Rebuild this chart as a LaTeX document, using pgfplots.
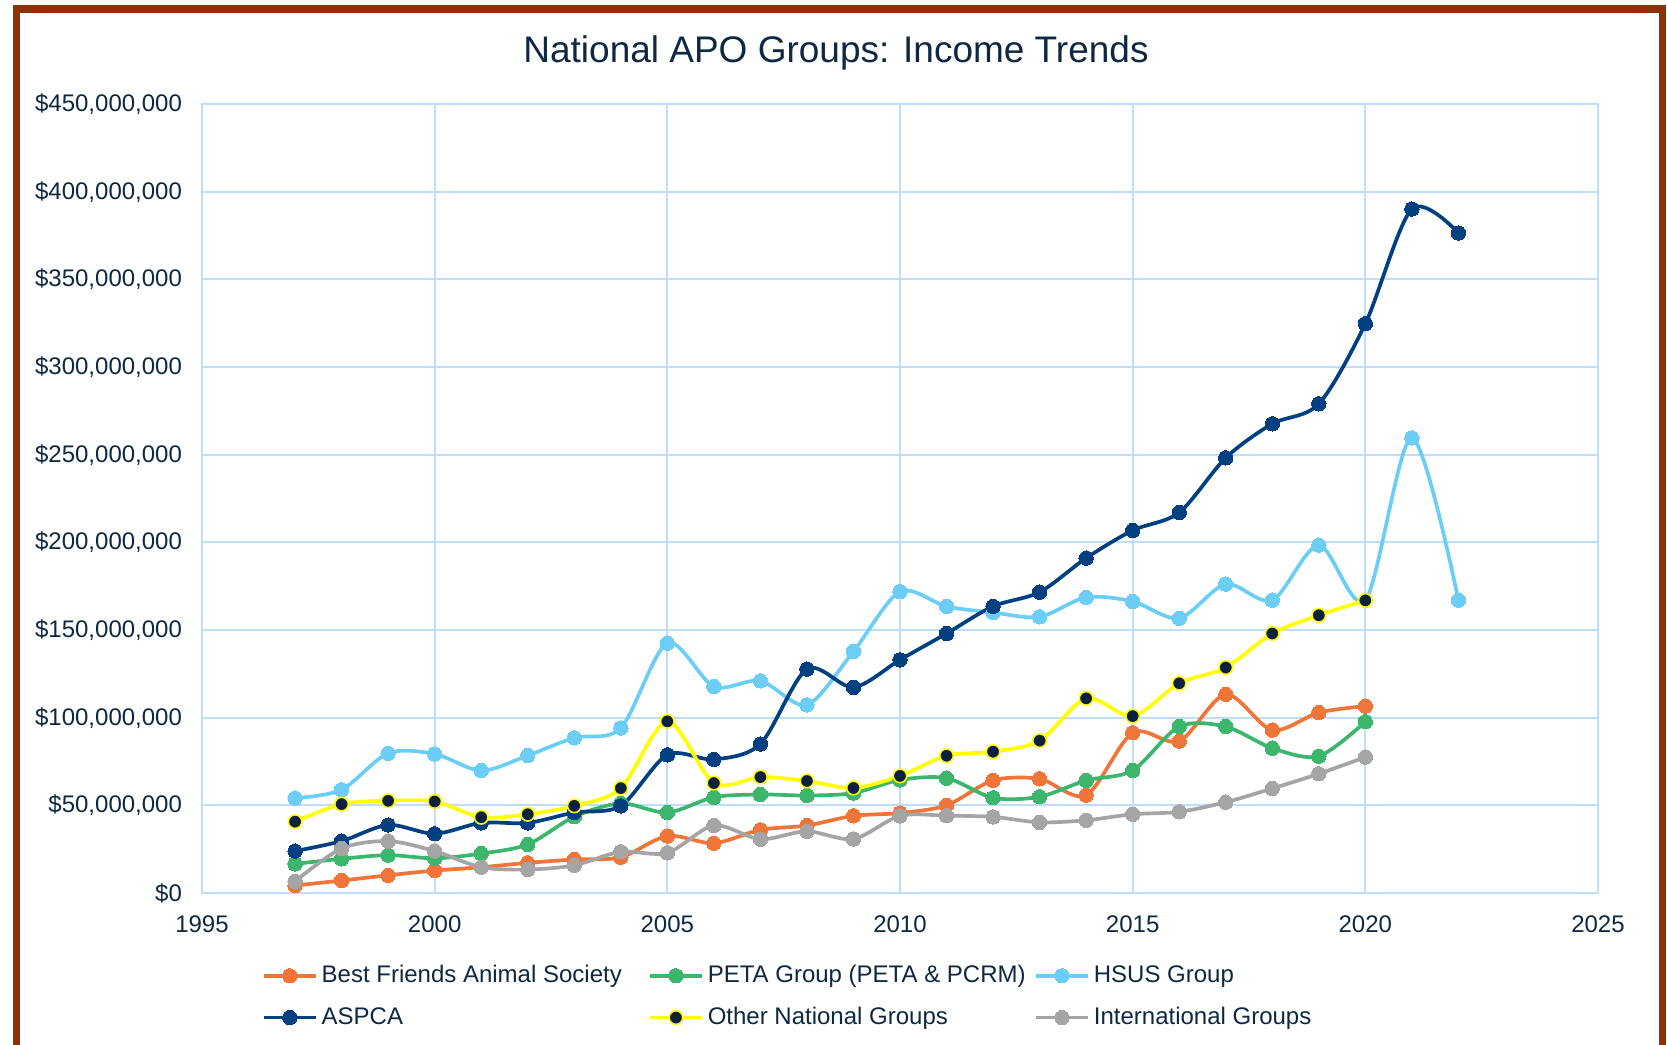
\documentclass[border=0pt]{standalone}
\usepackage{fontspec}
\setmainfont{Liberation Sans}
\usepackage{pgfplots}
\pgfplotsset{compat=1.18}
\definecolor{frame}{RGB}{141,49,9}
\definecolor{txt}{RGB}{14,40,65}
\definecolor{gridc}{RGB}{190,222,252}
\definecolor{cOrange}{RGB}{240,117,56}
\definecolor{cGreen}{RGB}{60,182,108}
\definecolor{cLight}{RGB}{108,206,246}
\definecolor{cNavy}{RGB}{0,64,128}
\definecolor{cYellow}{RGB}{255,255,0}
\definecolor{cMark}{RGB}{10,32,62}
\definecolor{cGray}{RGB}{165,165,165}
\begin{document}
\begin{tikzpicture}
\useasboundingbox (-101pt,-76pt) rectangle (732.5pt,446.5pt);
\draw[frame, line width=3.75pt] (-92.75pt,-80pt) -- (-92.75pt,442.1pt) -- (730.25pt,442.1pt) -- (730.25pt,-80pt);
\begin{axis}[
  at={(0,0)}, anchor=south west, scale only axis,
  width=698pt, height=394.5pt,
  xmin=1995, xmax=2025, ymin=0, ymax=450,
  xtick={1995,2000,...,2025}, ytick={0,50,...,450},
  yticklabels={{\$0},{\$50,000,000},{\$100,000,000},{\$150,000,000},{\$200,000,000},{\$250,000,000},{\$300,000,000},{\$350,000,000},{\$400,000,000},{\$450,000,000}},
  /pgf/number format/1000 sep={},
  /pgf/number format/assume math mode=true,
  scaled ticks=false,
  major tick length=0pt,
  axis line style={draw=gridc, line width=0.9pt},
  grid=major, grid style={draw=gridc, line width=0.9pt},
  ticklabel style={font=\fontsize{12}{14}\selectfont, text=txt},
  yticklabel style={xshift=-6.5pt},
  xticklabel style={yshift=-7.6pt},
  every axis plot/.append style={smooth, tension=0.5, line width=1.85pt, mark=*, mark size=3.6pt},
  legend columns=3,
  legend cell align=left,
  legend style={at={(0,0)}, anchor=north west, xshift=30pt, yshift=-34.3pt, draw=none, fill=none,
    font=\fontsize{12}{14}\selectfont, text=txt, inner sep=0pt, outer sep=0pt, row sep=6.7pt,
    /tikz/every even column/.append style={column sep=11.2pt}},
  legend image code/.code={\draw[mark repeat=2,mark phase=2,#1] plot coordinates {(0pt,0pt) (13pt,0pt) (26pt,0pt)};},
]
\addplot[color=cOrange, mark options={fill=cOrange, draw=cOrange, line width=0pt}] coordinates {
(1997,4.3) (1998,7.1) (1999,10.1) (2000,12.8) (2001,14.7) (2002,17.2) (2003,19.1) (2004,20.4) (2005,32.5) (2006,28.4) (2007,36) (2008,38.5) (2009,44) (2010,45.6) (2011,50) (2012,64.2) (2013,65.1) (2014,55.8) (2015,91.4) (2016,86.6) (2017,113.3) (2018,92.9) (2019,102.9) (2020,106.6)};
\addlegendentry{\makebox[150pt][l]{Best Friends Animal Society}}
\addplot[color=cGreen, mark options={fill=cGreen, draw=cGreen, line width=0pt}] coordinates {
(1997,16.6) (1998,19.5) (1999,21.6) (2000,19.8) (2001,22.5) (2002,27.7) (2003,43.5) (2004,51.1) (2005,45.9) (2006,54.6) (2007,56.2) (2008,55.6) (2009,57) (2010,64.5) (2011,65.5) (2012,54.3) (2013,54.9) (2014,64.2) (2015,69.9) (2016,94.9) (2017,94.9) (2018,82.6) (2019,78) (2020,97.7)};
\addlegendentry{\makebox[150pt][l]{PETA Group (PETA \& PCRM)}}
\addplot[color=cLight, mark options={fill=cLight, draw=cLight, line width=0pt}] coordinates {
(1997,54.1) (1998,58.9) (1999,79.7) (2000,79.3) (2001,69.8) (2002,78.4) (2003,88.5) (2004,94.1) (2005,142.5) (2006,117.8) (2007,121) (2008,107.3) (2009,137.8) (2010,171.8) (2011,163.4) (2012,160) (2013,157.5) (2014,168.6) (2015,166.3) (2016,156.7) (2017,176.2) (2018,167) (2019,198.4) (2020,167) (2021,259.6) (2022,167)};
\addlegendentry{\makebox[150pt][l]{HSUS Group}}
\addplot[color=cNavy, mark options={fill=cNavy, draw=cNavy, line width=0pt}] coordinates {
(1997,23.9) (1998,29.6) (1999,38.8) (2000,33.8) (2001,40) (2002,40) (2003,45.9) (2004,49.7) (2005,78.8) (2006,76.2) (2007,85) (2008,127.7) (2009,117.3) (2010,133) (2011,148) (2012,163.5) (2013,171.6) (2014,191) (2015,206.8) (2016,217) (2017,248.2) (2018,267.6) (2019,279) (2020,324.7) (2021,390.1) (2022,376.4)};
\addlegendentry{\makebox[150pt][l]{ASPCA}}
\addplot[color=cYellow, mark size=3.4pt, mark options={fill=cMark, draw=cYellow, line width=0.8pt}] coordinates {
(1997,40.7) (1998,50.7) (1999,52.6) (2000,52.2) (2001,43.2) (2002,44.9) (2003,49.7) (2004,59.8) (2005,97.9) (2006,62.7) (2007,66.1) (2008,63.9) (2009,59.9) (2010,66.8) (2011,78.3) (2012,80.6) (2013,86.9) (2014,111) (2015,100.9) (2016,119.6) (2017,128.6) (2018,148) (2019,158.4) (2020,166.9)};
\addlegendentry{\makebox[150pt][l]{Other National Groups}}
\addplot[color=cGray, mark options={fill=cGray, draw=cGray, line width=0pt}] coordinates {
(1997,6.7) (1998,25.4) (1999,29.6) (2000,23.9) (2001,14.7) (2002,13.4) (2003,15.8) (2004,23.5) (2005,22.9) (2006,38.5) (2007,30.7) (2008,35.2) (2009,30.8) (2010,44) (2011,44.1) (2012,43.4) (2013,40.3) (2014,41.5) (2015,44.9) (2016,46.3) (2017,51.8) (2018,59.6) (2019,68) (2020,77.5)};
\addlegendentry{\makebox[150pt][l]{International Groups}}
\end{axis}
\node[text=txt, font=\fontsize{18.5}{22}\selectfont] at (317pt,419.9pt) {National APO Groups: Income Trends};
\end{tikzpicture}
\end{document}
